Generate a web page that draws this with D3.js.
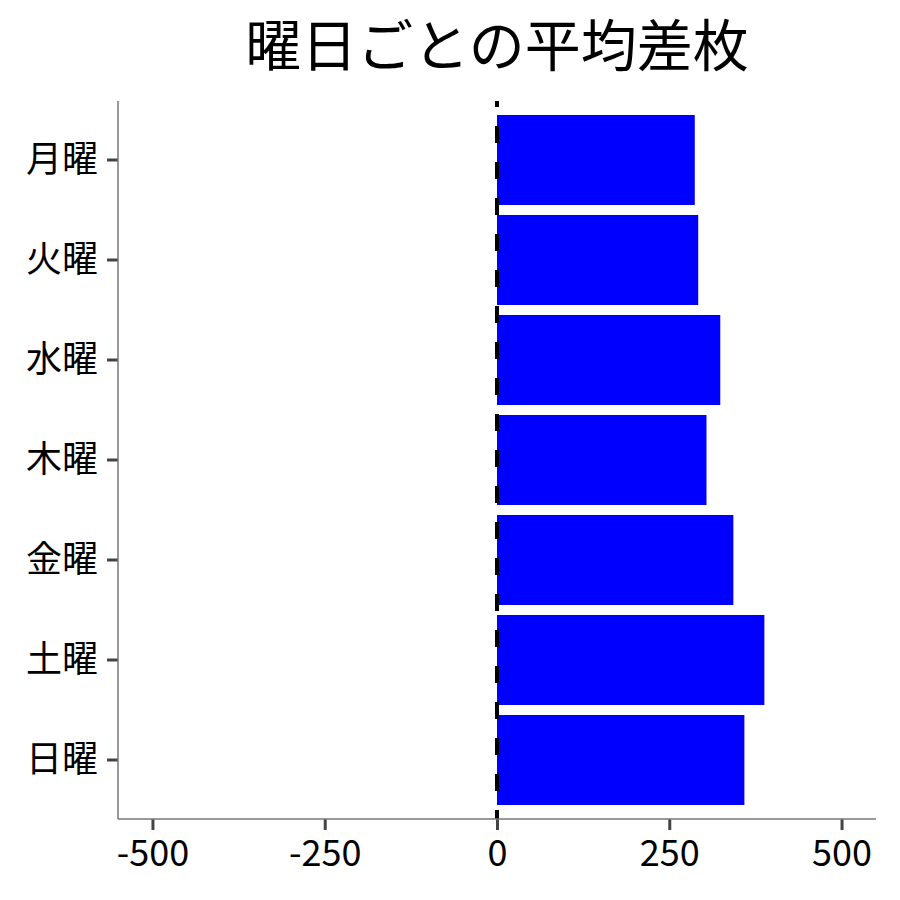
<!DOCTYPE html>
<html>
<head>
<meta charset="utf-8">
<script src="https://cdn.jsdelivr.net/npm/d3@7"></script>
<style>
body { margin: 0; background: #fff; }
text { font-family: "Noto Sans CJK JP", "Noto Sans", sans-serif; }
</style>
</head>
<body>
<svg id="chart" width="900" height="900"></svg>
<script>
var days = ["月曜", "火曜", "水曜", "木曜", "金曜", "土曜", "日曜"]
var avgDiff = [287, 292, 324, 304, 343, 388, 359]
var xTicks = [-500, -250, 0, 250, 500]

var svg = d3.select("#chart")

var xScale = d3.scaleLinear()
    .domain([-550, 550])
    .range([118, 876])

var yScale = d3.scaleBand()
    .domain(days)
    .range([110, 810])
    .paddingInner(0.1)
    .paddingOuter(0.05)

// title
svg.append("text")
    .attr("x", 497)
    .attr("y", 66)
    .attr("text-anchor", "middle")
    .attr("font-size", 56)
    .text("曜日ごとの平均差枚")

// bars
svg.selectAll("rect.bar").data(avgDiff)
    .enter().append("rect")
    .attr("class", "bar")
    .attr("x", xScale(0))
    .attr("y", function(d, i) { return yScale(days[i]) })
    .attr("width", function(d) { return xScale(d) - xScale(0) })
    .attr("height", yScale.bandwidth())
    .attr("fill", "#0000ff")

// dashed zero line
svg.append("line")
    .attr("x1", xScale(0)).attr("x2", xScale(0))
    .attr("y1", 101).attr("y2", 819)
    .attr("stroke", "black")
    .attr("stroke-width", 4)
    .attr("stroke-dasharray", "17,19")
    .attr("stroke-dashoffset", 11)

var x_axis = d3.axisBottom(xScale)
    .tickValues(xTicks)
    .tickSize(11)
    .tickPadding(10)
    .tickFormat(function(d) { return String(d) })

var y_axis = d3.axisLeft(yScale)
    .tickSize(11)
    .tickPadding(9)

var gx = svg.append("g")
    .attr("transform", "translate(0,819)")
    .call(x_axis)

var gy = svg.append("g")
    .attr("transform", "translate(118,0)")
    .call(y_axis)

gx.select(".domain").remove()
gy.select(".domain").remove()

svg.append("line")
    .attr("x1", 118).attr("x2", 876)
    .attr("y1", 819).attr("y2", 819)
    .attr("stroke", "#777").attr("stroke-width", 1.5)
svg.append("line")
    .attr("x1", 118).attr("x2", 118)
    .attr("y1", 101).attr("y2", 819)
    .attr("stroke", "#777").attr("stroke-width", 1.5)

svg.selectAll(".tick line")
    .attr("stroke", "#444")
    .attr("stroke-width", 3)

svg.selectAll(".tick text")
    .attr("font-size", 36)
    .attr("fill", "black")
    .style("font-family", "'Noto Sans CJK JP', 'Noto Sans', sans-serif")
</script>
</body>
</html>
